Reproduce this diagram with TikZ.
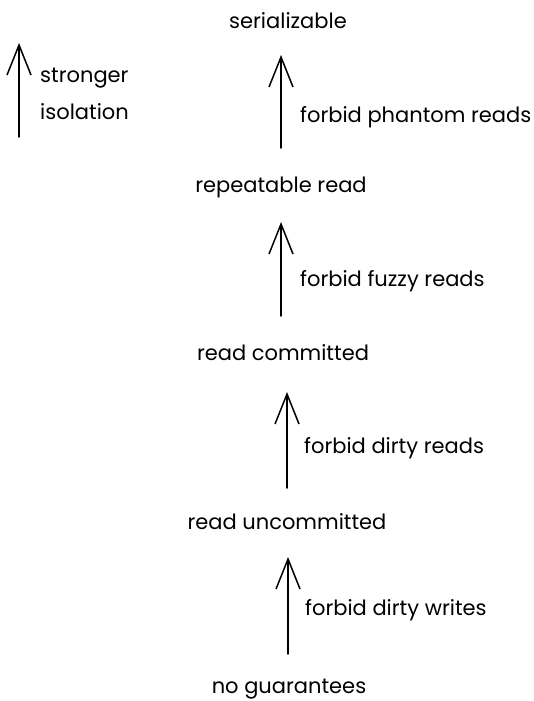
\documentclass[tikz,border=0pt]{standalone}
\usepackage{fontspec}
\setmainfont{Poppins}
\usetikzlibrary{arrows.meta}
\begin{document}
\begin{tikzpicture}[x=1pt,y=-1pt,
  lbl/.style={font=\fontsize{21}{24}\selectfont, inner sep=0pt, anchor=center},
  note/.style={font=\fontsize{21}{24}\selectfont, inner sep=0pt, anchor=west},
  up/.style={line width=1.5pt, line cap=round, -{Straight Barb[length=30pt,width=24pt,line width=1.5pt]}}]
\useasboundingbox (0,0) rectangle (534,701);

% isolation levels
\node[lbl] (ser) at (288,21) {serializable};
\node[lbl] (rr)  at (281,187) {repeatable read};
\node[lbl] (rc)  at (283,353) {read committed};
\node[lbl] (ru)  at (287,522) {read uncommitted};
\node[lbl] (ng)  at (289,689) {no guarantees};

% legend
\node[note] (st) at (40,78) {stronger};
\node[note] (is) at (40,112) {isolation};
\coordinate (lgA) at (19,137);
\coordinate (lgB) at (19,43);
\draw[up] (lgA) -- (lgB);

% arrow end points between levels
\coordinate (a1s) at (281,148); \coordinate (a1e) at (281,55);
\coordinate (a2s) at (281,316); \coordinate (a2e) at (281,222);
\coordinate (a3s) at (287,488); \coordinate (a3e) at (287,392);
\coordinate (a4s) at (288,654); \coordinate (a4e) at (288,557);

\draw[up] (a1s) -- (a1e);
\draw[up] (a2s) -- (a2e);
\draw[up] (a3s) -- (a3e);
\draw[up] (a4s) -- (a4e);

% anomaly labels
\node[note] (f1) at (300,117) {forbid phantom reads};
\node[note] (f2) at (300,281) {forbid fuzzy reads};
\node[note] (f3) at (304,448) {forbid dirty reads};
\node[note] (f4) at (305,610) {forbid dirty writes};
\end{tikzpicture}
\end{document}
